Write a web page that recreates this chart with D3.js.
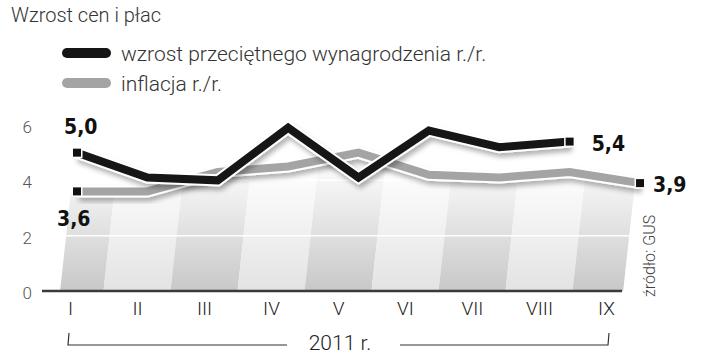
<!DOCTYPE html>
<html>
<head>
<meta charset="utf-8">
<script src="https://cdn.jsdelivr.net/npm/d3@7"></script>
<style>
  body { margin: 0; background: #fff; }
  svg { display: block; }
  .light { font-family: Roboto, "Open Sans", sans-serif; font-weight: 300; }
  .val { font-family: "DejaVu Sans Condensed", "DejaVu Sans", sans-serif; font-weight: bold; font-size: 21px; fill: #111; }
</style>
</head>
<body>
<svg width="720" height="355"></svg>
<script>
const months = ["I", "II", "III", "IV", "V", "VI", "VII", "VIII", "IX"];
// wzrost przeciętnego wynagrodzenia r./r. (I–VIII)
const wages = [5.0, 4.1, 4.0, 5.9, 4.1, 5.8, 5.2, 5.4];
// inflacja r./r. (I–IX)
const inflation = [3.6, 3.6, 4.3, 4.5, 5.0, 4.2, 4.1, 4.3, 3.9];
const yTicks = [0, 2, 4, 6];

const svg = d3.select("svg");

const x = d3.scalePoint().domain(months).range([77, 640]);
const xLab = d3.scalePoint().domain(months).range([70, 606]);
const y = d3.scaleLinear().domain([0, 6]).range([291, 125]);
const slant = 0.11; // perspective lean of the floor

const defs = svg.append("defs");

const shadow = defs.append("filter").attr("id", "shadow")
  .attr("x", "-10%").attr("y", "-30%").attr("width", "120%").attr("height", "160%");
shadow.append("feDropShadow")
  .attr("dx", 2).attr("dy", 4).attr("stdDeviation", 2.5)
  .attr("flood-color", "#000").attr("flood-opacity", 0.3);

function grad(id, c0, c1) {
  const g = defs.append("linearGradient").attr("id", id)
    .attr("gradientUnits", "userSpaceOnUse")
    .attr("x1", 0).attr("x2", 0).attr("y1", y(0)).attr("y2", 175);
  g.append("stop").attr("offset", 0).attr("stop-color", c0);
  g.append("stop").attr("offset", 1).attr("stop-color", c1);
}
grad("dark", "#c8c8c8", "#f8f8f8");
grad("lite", "#e3e3e3", "#fdfdfd");

// floor area under the inflation line
const infPts = inflation.map((v, i) => [x(months[i]), y(v)]);
const first = infPts[0], last = infPts[infPts.length - 1];
const areaPts = [
  [first[0] - 6 - slant * (y(0) - first[1]), y(0)],
  [first[0] - 6, first[1]],
  ...infPts.slice(1, -1),
  [last[0] - 5, last[1]],
  [last[0] - 5 - slant * (y(0) - last[1]), y(0)]
];
defs.append("clipPath").attr("id", "floor")
  .append("path").attr("d", "M" + areaPts.join("L") + "Z");

const h = y(0) - 110;
const stripes = months.map((m, i) => {
  const l = i === 0 ? xLab(m) - 40 : (xLab(months[i - 1]) + xLab(m)) / 2;
  const r = i === months.length - 1 ? xLab(m) + 40 : (xLab(m) + xLab(months[i + 1])) / 2;
  return { i, pts: [[l, y(0)], [r, y(0)], [r + slant * h, y(0) - h], [l + slant * h, y(0) - h]] };
});

const floor = svg.append("g").attr("clip-path", "url(#floor)");
floor.selectAll("path").data(stripes).join("path")
  .attr("d", d => "M" + d.pts.join("L") + "Z")
  .attr("fill", d => d.i % 2 === 0 ? "url(#dark)" : "url(#lite)");
floor.selectAll("line").data(yTicks.filter(t => t > 0)).join("line")
  .attr("x1", 40).attr("x2", 640)
  .attr("y1", d => y(d)).attr("y2", d => y(d))
  .attr("stroke", "#fff").attr("stroke-width", 1.5);

// baseline
svg.append("line")
  .attr("x1", 42).attr("x2", 622).attr("y1", y(0)).attr("y2", y(0))
  .attr("stroke", "#3a3a3a").attr("stroke-width", 2.5);

// y axis labels
const yAxis = svg.append("g").attr("transform", "translate(32,0)")
  .call(d3.axisLeft(y).tickValues(yTicks).tickFormat(d3.format("d")).tickSize(0).tickPadding(0));
yAxis.select(".domain").remove();
yAxis.selectAll("text")
  .attr("class", "light").attr("font-size", 17).attr("fill", "#555").attr("dy", "0.45em");

// x axis labels
const xAxis = svg.append("g").attr("transform", `translate(0,${y(0)})`)
  .call(d3.axisBottom(xLab).tickSize(0).tickPadding(11));
xAxis.select(".domain").remove();
xAxis.selectAll("text")
  .attr("class", "light").attr("font-size", 19).attr("fill", "#222");

// lines
const line = d3.line().x(d => d[0]).y(d => d[1]);
function drawSeries(values, color) {
  const pts = values.map((v, i) => [x(months[i]), y(v)]);
  const g = svg.append("g").attr("filter", "url(#shadow)");
  g.append("path").attr("d", line(pts)).attr("fill", "none")
    .attr("stroke", "#fff").attr("stroke-width", 12).attr("stroke-linejoin", "miter");
  g.append("path").attr("d", line(pts)).attr("fill", "none")
    .attr("stroke", color).attr("stroke-width", 8).attr("stroke-linejoin", "miter");
  svg.append("g").selectAll("rect").data([pts[0], pts[pts.length - 1]]).join("rect")
    .attr("x", d => d[0] - 4).attr("y", d => d[1] - 4)
    .attr("width", 8).attr("height", 8)
    .attr("fill", "#111").attr("stroke", "#fff").attr("stroke-width", 3)
    .attr("paint-order", "stroke");
  return pts;
}
const infLine = drawSeries(inflation, "#a4a4a4");
const wageLine = drawSeries(wages, "#151515");

// value labels
const fmt = v => d3.format(".1f")(v).replace(".", ",");
const wl = wageLine.length - 1, il = infLine.length - 1;
const valLabels = [
  { t: fmt(wages[0]), x: wageLine[0][0] - 13, y: wageLine[0][1] - 19 },
  { t: fmt(inflation[0]), x: infLine[0][0] - 20, y: infLine[0][1] + 35 },
  { t: fmt(wages[wl]), x: wageLine[wl][0] + 22, y: wageLine[wl][1] + 9 },
  { t: fmt(inflation[il]), x: infLine[il][0] + 13, y: infLine[il][1] + 9 }
];
svg.append("g").selectAll("text").data(valLabels).join("text")
  .attr("class", "val").attr("x", d => d.x).attr("y", d => d.y).text(d => d.t);

// title
svg.append("text").attr("class", "light")
  .attr("x", 11).attr("y", 22).attr("font-size", 20).attr("fill", "#333")
  .text("Wzrost cen i płac");

// legend
const legend = [
  { name: "wzrost przeciętnego wynagrodzenia r./r.", color: "#151515" },
  { name: "inflacja r./r.", color: "#a4a4a4" }
];
const lg = svg.append("g").selectAll("g").data(legend).join("g")
  .attr("transform", (d, i) => `translate(0,${53 + i * 30})`);
lg.append("line").attr("x1", 67).attr("x2", 106)
  .attr("stroke", d => d.color).attr("stroke-width", 10).attr("stroke-linecap", "round");
lg.append("text").attr("class", "light").attr("x", 121).attr("y", 8)
  .attr("font-size", 21).attr("fill", "#333").text(d => d.name);

// year bracket
const yr = svg.append("g");
const bx0 = xLab(months[0]) - 2, bx1 = xLab(months[months.length - 1]) + 2;
const by = 345, tx = 340;
yr.append("path")
  .attr("d", `M${bx0 + 1},333L${bx0},${by}L${tx - 53},${by}M${tx + 60},${by}L${bx1},${by}L${bx1 + 1},333`)
  .attr("fill", "none").attr("stroke", "#333").attr("stroke-width", 1.2);
yr.append("text").attr("class", "light")
  .attr("x", tx).attr("y", 350).attr("text-anchor", "middle")
  .attr("font-size", 21).attr("fill", "#222").text("2011 r.");

// source
svg.append("text").attr("class", "light")
  .attr("transform", "translate(655,297) rotate(-90)")
  .attr("font-size", 16).attr("fill", "#444")
  .text("źródło: GUS");
</script>
</body>
</html>
